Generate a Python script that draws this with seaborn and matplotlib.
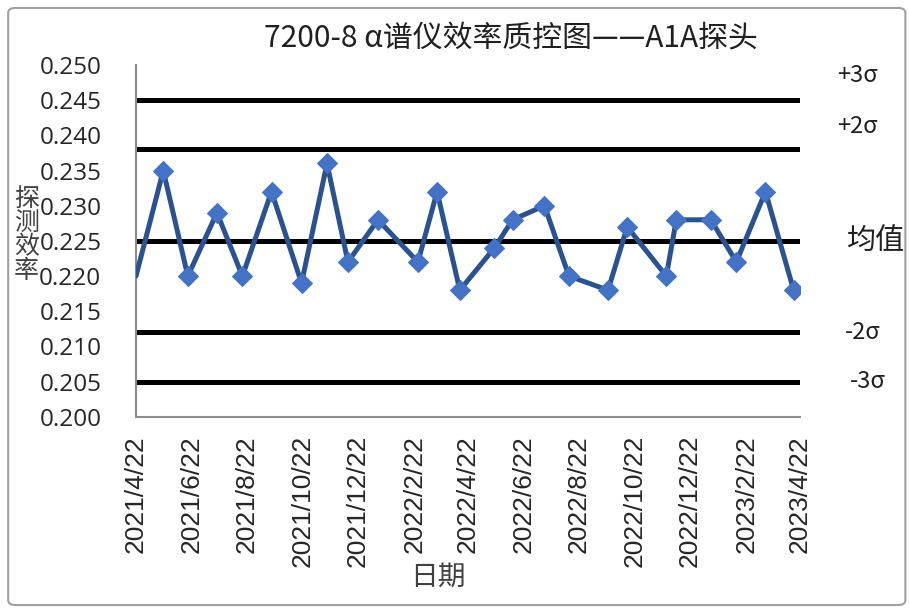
import pandas as pd
import matplotlib.pyplot as plt
import matplotlib.patches as patches
import seaborn as sns

# 数据
dates = ['2021-04-22', '2021-05-22', '2021-06-18', '2021-07-20', '2021-08-17',
         '2021-09-18', '2021-10-21', '2021-11-18', '2021-12-11', '2022-01-13',
         '2022-02-26', '2022-03-19', '2022-04-13', '2022-05-21', '2022-06-10',
         '2022-07-15', '2022-08-11', '2022-09-23', '2022-10-14', '2022-11-26',
         '2022-12-07', '2023-01-14', '2023-02-11', '2023-03-15', '2023-04-15']
eff = [0.220, 0.235, 0.220, 0.229, 0.220, 0.232, 0.219, 0.236, 0.222, 0.228,
       0.222, 0.232, 0.218, 0.224, 0.228, 0.230, 0.220, 0.218, 0.227, 0.220,
       0.228, 0.228, 0.222, 0.232, 0.218]
ctrl_names = ['+3σ', '+2σ', '均值', '-2σ', '-3σ']
ctrl_vals = [0.245, 0.238, 0.225, 0.212, 0.205]
tick_dates = ['2021-04-22', '2021-06-22', '2021-08-22', '2021-10-22', '2021-12-22',
              '2022-02-22', '2022-04-22', '2022-06-22', '2022-08-22', '2022-10-22',
              '2022-12-22', '2023-02-22', '2023-04-22']
yticks = [0.200, 0.205, 0.210, 0.215, 0.220, 0.225, 0.230, 0.235, 0.240, 0.245, 0.250]

sns.set_style('white')
plt.rcParams['font.family'] = ['Noto Sans CJK SC', 'DejaVu Sans']

df = pd.DataFrame({'date': pd.to_datetime(dates), 'eff': eff})
ticks = pd.to_datetime(tick_dates)

fig = plt.figure(figsize=(9.09, 6.13), dpi=100)
ax = fig.add_axes([0.1496, 0.320, 0.7305, 0.574])

# 控制线
for v in ctrl_vals:
    ax.axhline(v, color='black', lw=3.6, zorder=1)

# 第一个点在坐标轴上，原图没有显示标记
sns.lineplot(data=df, x='date', y='eff', ax=ax, color='#2b5290', lw=3.6,
             marker='D', markersize=10, markerfacecolor='#4472c4',
             markeredgecolor='#4472c4', markevery=list(range(1, len(eff))), zorder=3)

ax.set_xlim(ticks[0], ticks[-1])
ax.set_ylim(0.200, 0.250)
ax.set_xticks(ticks)
ax.set_xticklabels([f'{d.year}/{d.month}/{d.day}' for d in ticks],
                   rotation=90, family='Liberation Sans', fontsize=19)
ax.set_yticks(yticks)
ax.set_yticklabels([f'{v:.3f}' for v in yticks], fontsize=17.5, family='Open Sans')

for s in ['top', 'right']:
    ax.spines[s].set_visible(False)
for s in ['left', 'bottom']:
    ax.spines[s].set_color('#8c8c8c')
    ax.spines[s].set_linewidth(1.5)
ax.tick_params(axis='both', direction='out', length=6, width=1.5, color='#8c8c8c')
ax.tick_params(axis='x', pad=7)
ax.tick_params(axis='y', pad=19)

ax.set_xlabel('')
ax.set_ylabel('')
fig.text(0.482, 0.059, '日期', fontsize=20, color='#404040', ha='center', va='center')
fig.text(0.029, 0.616, '探\n测\n效\n率', fontsize=18, color='#404040',
         ha='center', va='center', linespacing=0.9)
fig.text(0.562, 0.937, '7200-8 α谱仪效率质控图——A1A探头', fontsize=21.5,
         ha='center', va='center', color='#202020')

# 右侧标签
offsets = [25, 23, 0, 0, 0]
xs = [1.056, 1.056, 1.071, 1.068, 1.075]
sizes = [17, 17, 21, 17, 17]
for name, v, off, xx, fs in zip(ctrl_names, ctrl_vals, offsets, xs, sizes):
    ax.annotate(name, xy=(xx, v), xycoords=('axes fraction', 'data'),
                xytext=(0, off), textcoords='offset pixels',
                fontsize=fs, ha='left', va='center', color='#202020',
                annotation_clip=False)

fig.patches.append(patches.FancyBboxPatch((0.009, 0.013), 0.987, 0.974,
                                          boxstyle='round,pad=0,rounding_size=0.008',
                                          transform=fig.transFigure, fill=False,
                                          edgecolor='#a0a0a0', lw=1.5))

fig.savefig('out.png', dpi=100)
